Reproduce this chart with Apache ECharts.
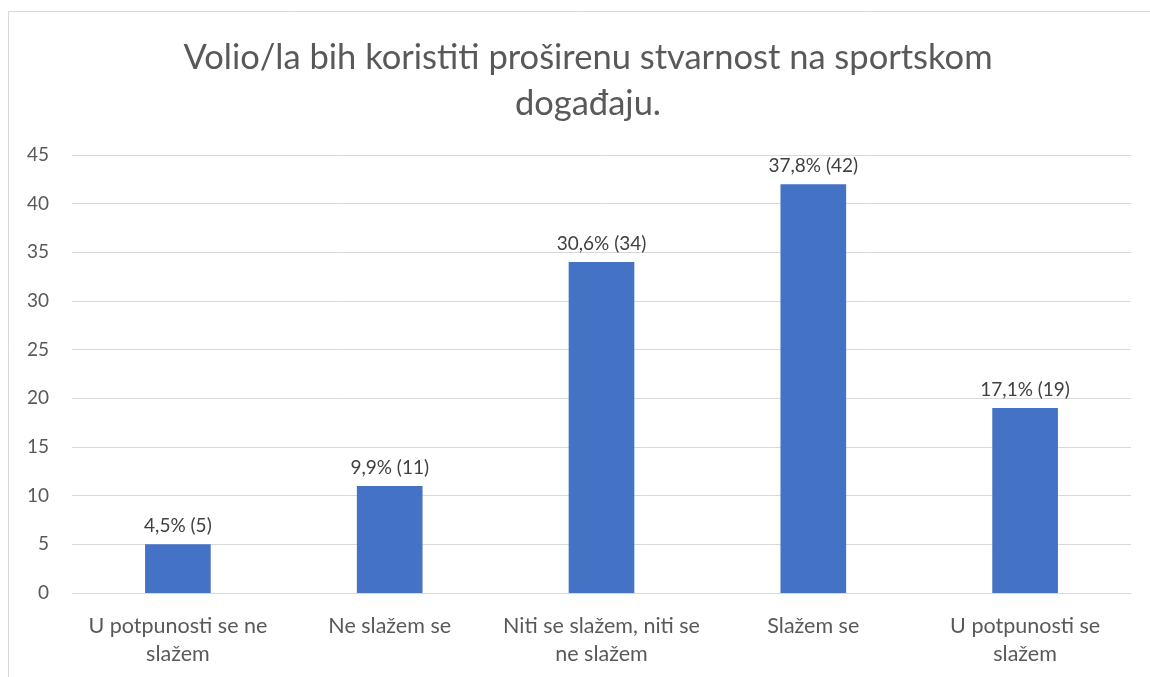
<!DOCTYPE html>
<html>
<head>
<meta charset="utf-8">
<script src="https://cdn.jsdelivr.net/npm/echarts@6/dist/echarts.min.js"></script>
<style>
  html, body { margin: 0; padding: 0; background: #fff; }
  #chart { width: 1150px; height: 677px; }
</style>
</head>
<body>
<div id="chart"></div>
<script>
  const categories = ['U potpunosti se ne\nslažem', 'Ne slažem se', 'Niti se slažem, niti se\nne slažem', 'Slažem se', 'U potpunosti se\nslažem']
  const counts = [5, 11, 34, 42, 19]
  const percents = ['4,5%', '9,9%', '30,6%', '37,8%', '17,1%']
  const yTicks = { min: 0, max: 45, interval: 5 }

  const font = 'Lato, "Open Sans", sans-serif'
  const chart = echarts.init(document.getElementById('chart'))
  const option = {
    animation: false,
    title: {
      text: 'Volio/la bih koristiti proširenu stvarnost na sportskom\ndogađaju.',
      left: 583,
      top: 30,
      textAlign: 'center',
      textStyle: {
        fontFamily: font,
        fontSize: 34.5,
        fontWeight: 'normal',
        color: '#595959',
        lineHeight: 46
      }
    },
    graphic: [
      {
        type: 'polyline',
        shape: { points: [[8.5, 677], [8.5, 11.5], [1150, 11.5]] },
        style: { stroke: '#d9d9d9', lineWidth: 1, fill: null }
      }
    ],
    grid: { left: 72, right: 19, top: 155, bottom: 84 },
    xAxis: {
      type: 'category',
      data: categories,
      axisLine: { show: true, lineStyle: { color: '#d9d9d9' } },
      axisTick: { show: false },
      axisLabel: {
        fontFamily: font,
        fontSize: 21.5,
        color: '#595959',
        lineHeight: 28,
        margin: 19,
        interval: 0
      }
    },
    yAxis: {
      type: 'value',
      min: yTicks.min,
      max: yTicks.max,
      interval: yTicks.interval,
      axisLine: { show: false },
      axisTick: { show: false },
      splitLine: { lineStyle: { color: '#d9d9d9', width: 1 } },
      axisLabel: {
        fontFamily: font,
        fontSize: 19,
        color: '#595959',
        margin: 23
      }
    },
    series: [
      {
        type: 'bar',
        data: counts,
        barWidth: '31%',
        itemStyle: { color: '#4472C4' },
        label: {
          show: true,
          position: 'top',
          distance: 9,
          fontFamily: font,
          fontSize: 19,
          color: '#404040',
          formatter: p => percents[p.dataIndex] + ' (' + p.value + ')'
        }
      }
    ]
  }
  chart.setOption(option)
</script>
</body>
</html>
